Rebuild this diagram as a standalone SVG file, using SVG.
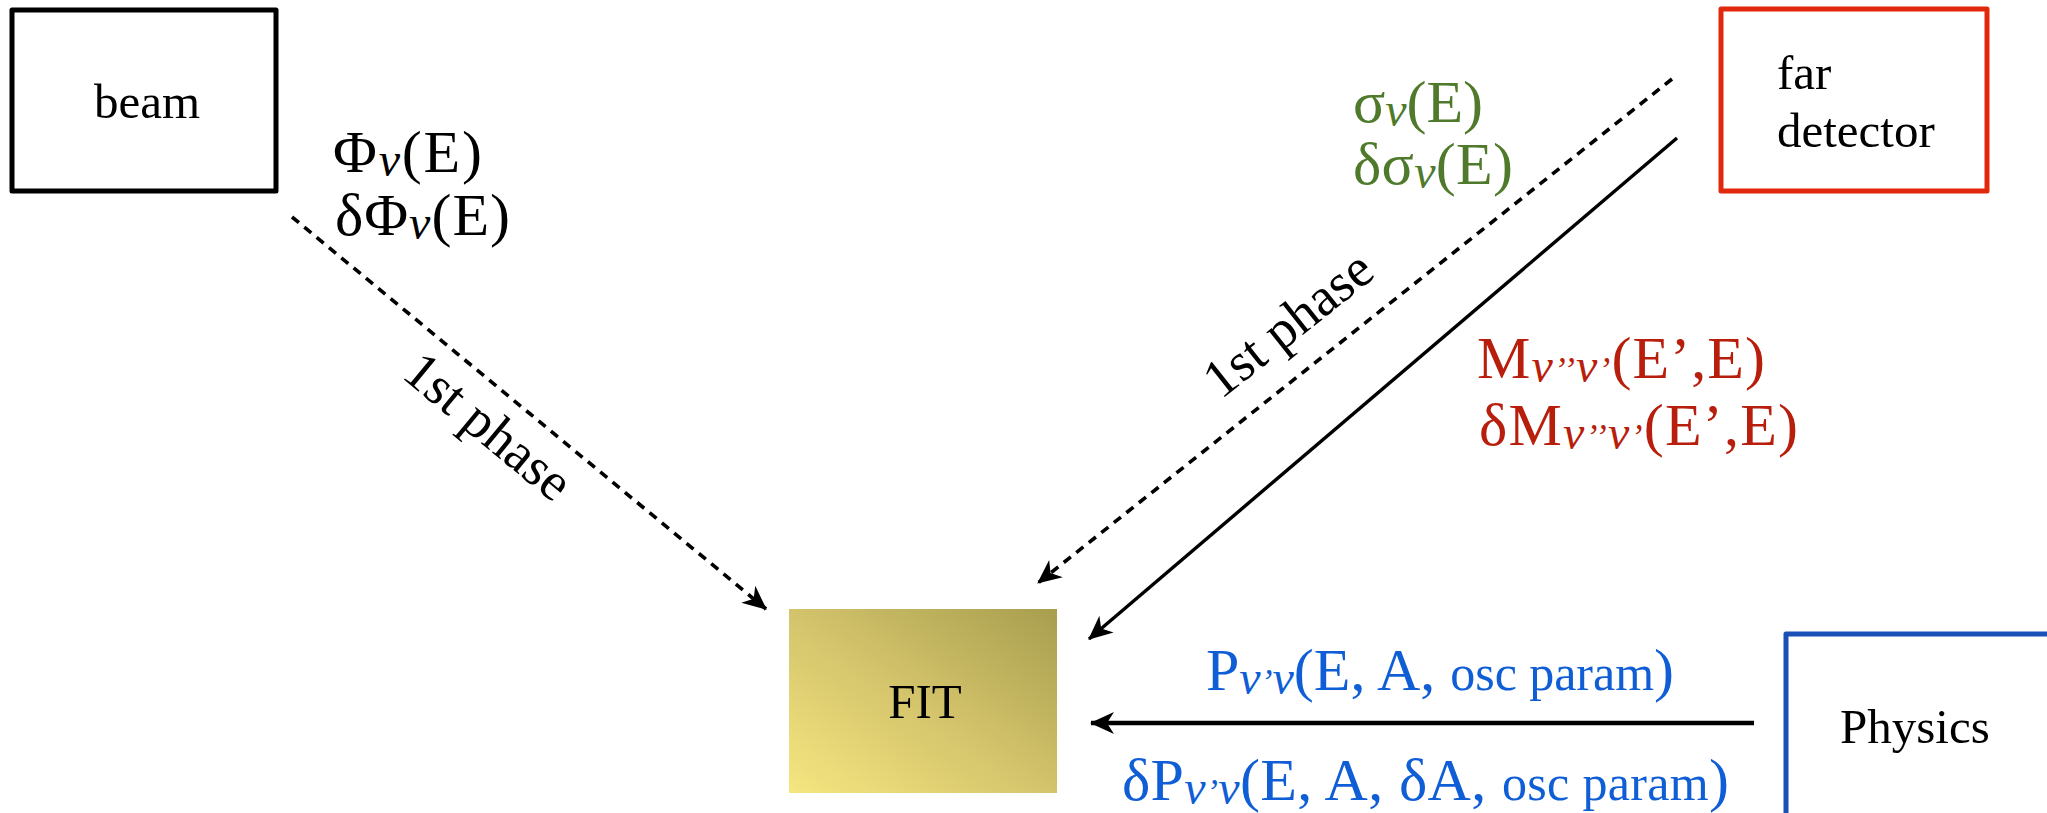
<svg xmlns="http://www.w3.org/2000/svg" width="2047" height="813" viewBox="0 0 2047 813">
<style>
.box{fill:#ffffff;stroke-width:5;stroke-linejoin:round}
.nt{font-family:"Liberation Serif","Times New Roman",serif;font-size:49px;fill:#000}
.ph{font-family:"Liberation Serif","Times New Roman",serif;font-size:54px;fill:#000}
.f{font-family:"Liberation Serif","Times New Roman",serif;font-size:60px}
.sub{font-style:italic;font-size:48px}
.pr{font-style:italic;font-size:36px}
.sm{font-size:50px}
.dash{fill:none;stroke:#000;stroke-width:3.6;stroke-dasharray:9 7}
.solid{fill:none;stroke:#000;stroke-width:3.4}
.thick{fill:none;stroke:#000;stroke-width:4.6}
</style>
<defs>
<marker id="ah" viewBox="-26 -13 28 26" refX="0" refY="0" markerWidth="28" markerHeight="26" markerUnits="userSpaceOnUse" orient="auto">
<path d="M1,0 L-23,-11 L-16,0 L-23,11 Z" fill="#000"/>
</marker>
<linearGradient id="fitg" x1="0" y1="1" x2="1" y2="0">
<stop offset="0" stop-color="#f6e680"/>
<stop offset="0.5" stop-color="#d3c36b"/>
<stop offset="1" stop-color="#a79e4e"/>
</linearGradient>
</defs>

<g id="connectors">
<line class="dash" x1="292" y1="217" x2="766" y2="609" marker-end="url(#ah)"/>
<line class="dash" x1="1672" y1="79" x2="1038" y2="583" marker-end="url(#ah)"/>
<line class="solid" x1="1677" y1="138" x2="1089" y2="639" marker-end="url(#ah)"/>
<line class="thick" x1="1754" y1="723" x2="1091" y2="723" marker-end="url(#ah)"/>
</g>

<g id="beam">
<rect class="box" x="12" y="10" width="264" height="181" stroke="#000"/>
<text class="nt" x="147" y="118" text-anchor="middle">beam</text>
</g>

<g id="far-detector">
<rect class="box" x="1721" y="9" width="266" height="182" stroke="#e2280c"/>
<text class="nt" x="1777" y="89">far</text>
<text class="nt" x="1777" y="147">detector</text>
</g>

<g id="fit">
<rect x="789" y="609" width="268" height="184" fill="url(#fitg)"/>
<text class="nt" x="925" y="718" text-anchor="middle">FIT</text>
</g>

<g id="physics">
<rect class="box" x="1786" y="634" width="400" height="300" stroke="#1a50b8"/>
<text class="nt" x="1840" y="743">Physics</text>
</g>

<g id="labels">
<text class="f" x="333" y="172" fill="#000" textLength="149">Φ<tspan class="sub" dy="4">ν</tspan><tspan dy="-4">(E)</tspan></text>
<text class="f" x="335" y="235" fill="#000" textLength="175">δΦ<tspan class="sub" dy="4">ν</tspan><tspan dy="-4">(E)</tspan></text>

<text class="f" x="1353" y="122" fill="#4f7a2b" textLength="130">σ<tspan class="sub" dy="4">ν</tspan><tspan dy="-4">(E)</tspan></text>
<text class="f" x="1353" y="184" fill="#4f7a2b" textLength="160">δσ<tspan class="sub" dy="4">ν</tspan><tspan dy="-4">(E)</tspan></text>

<text class="f" x="1477" y="378" fill="#b81e0c" textLength="288">M<tspan class="sub" dy="4">ν</tspan><tspan class="pr">’’</tspan><tspan class="sub">ν</tspan><tspan class="pr">’</tspan><tspan dy="-4">(E’,E)</tspan></text>
<text class="f" x="1479" y="445" fill="#b81e0c" textLength="319">δM<tspan class="sub" dy="4">ν</tspan><tspan class="pr">’’</tspan><tspan class="sub">ν</tspan><tspan class="pr">’</tspan><tspan dy="-4">(E’,E)</tspan></text>

<text class="f" x="1206" y="690" fill="#0f5ed6" textLength="468">P<tspan class="sub" dy="4">ν</tspan><tspan class="pr">’</tspan><tspan class="sub">ν</tspan><tspan dy="-4">(E, A, </tspan><tspan class="sm">osc param</tspan>)</text>
<text class="f" x="1122" y="800" fill="#0f5ed6" textLength="607">δP<tspan class="sub" dy="4">ν</tspan><tspan class="pr">’</tspan><tspan class="sub">ν</tspan><tspan dy="-4">(E, A, δA, </tspan><tspan class="sm">osc param</tspan>)</text>

<text class="ph" transform="translate(477,440) rotate(39.6)" text-anchor="middle">1st phase</text>
<text class="ph" transform="translate(1299,338) rotate(-38.5)" text-anchor="middle">1st phase</text>
</g>
</svg>
